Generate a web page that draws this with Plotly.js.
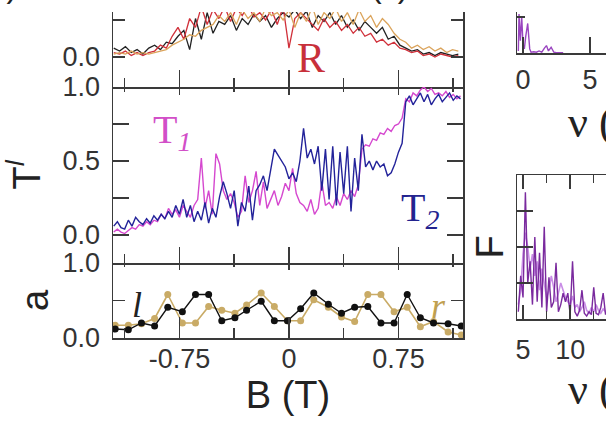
<!DOCTYPE html>
<html><head><meta charset="utf-8">
<script src="https://cdn.plot.ly/plotly-3.0.1.min.js"></script>
<style>html,body{margin:0;padding:0;background:#fff;}#chart{width:606px;height:427px;}</style>
</head><body><div id="chart"></div><script>
// ---- R panel (top left) ----
const B_R = [-1.20,-1.16,-1.12,-1.08,-1.04,-1.00,-0.96,-0.92,-0.88,-0.84,-0.80,-0.76,-0.72,-0.68,-0.64,-0.60,-0.56,-0.52,-0.48,-0.44,-0.40,-0.36,-0.32,-0.28,-0.24,-0.20,-0.16,-0.12,-0.08,-0.04,0.00,0.04,0.08,0.12,0.16,0.20,0.24,0.28,0.32,0.36,0.40,0.44,0.48,0.52,0.56,0.60,0.64,0.68,0.72,0.76,0.80,0.84,0.88,0.92,0.96,1.00,1.04,1.08,1.12,1.16];
const R_black = [0.06,0.04,0.07,0.03,0.05,0.02,0.06,0.08,0.05,0.10,0.09,0.14,0.18,0.05,0.26,0.12,0.30,0.16,0.24,0.22,0.28,0.18,0.26,0.22,0.29,0.24,0.28,0.20,0.26,0.30,0.27,0.32,0.26,0.31,0.20,0.28,0.24,0.30,0.22,0.28,0.20,0.25,0.18,0.24,0.20,0.16,0.20,0.12,0.14,0.08,0.06,0.04,0.05,0.02,0.03,0.01,0.03,0.02,0.01,0.02];
const R_red = [0.03,0.02,0.04,0.01,0.03,0.01,0.03,0.04,0.08,0.06,0.14,0.20,0.12,0.26,0.20,0.34,0.22,0.32,0.26,0.34,0.24,0.33,0.28,0.35,0.27,0.30,0.25,0.32,0.22,0.34,0.06,0.26,0.30,0.26,0.22,0.18,0.26,0.20,0.24,0.18,0.22,0.16,0.20,0.14,0.16,0.10,0.12,0.08,0.10,0.06,0.05,0.03,0.04,0.01,0.02,0.00,0.02,0.01,0.00,0.01];
const R_orange = [0.02,0.03,0.02,0.04,0.02,0.03,0.02,0.03,0.04,0.05,0.08,0.10,0.12,0.15,0.14,0.18,0.20,0.22,0.28,0.24,0.30,0.22,0.32,0.26,0.30,0.24,0.33,0.28,0.30,0.25,0.32,0.20,0.30,0.24,0.34,0.22,0.30,0.26,0.33,0.24,0.30,0.22,0.32,0.24,0.28,0.20,0.26,0.22,0.16,0.12,0.10,0.06,0.08,0.05,0.07,0.04,0.06,0.03,0.05,0.04];

// ---- T panel (middle left) ----
const B_T = [-1.2,-1.175,-1.15,-1.125,-1.1,-1.075,-1.05,-1.025,-1,-0.975,-0.95,-0.925,-0.9,-0.875,-0.85,-0.825,-0.8,-0.775,-0.75,-0.725,-0.7,-0.675,-0.65,-0.625,-0.6,-0.575,-0.55,-0.525,-0.5,-0.475,-0.45,-0.425,-0.4,-0.375,-0.35,-0.325,-0.3,-0.275,-0.25,-0.225,-0.2,-0.175,-0.15,-0.125,-0.1,-0.075,-0.05,-0.025,0,0.025,0.05,0.075,0.1,0.125,0.15,0.175,0.2,0.225,0.25,0.275,0.3,0.325,0.35,0.375,0.4,0.425,0.45,0.475,0.5,0.525,0.55,0.575,0.6,0.625,0.65,0.675,0.7,0.725,0.75,0.775,0.8,0.825,0.85,0.875,0.9,0.925,0.95,0.975,1,1.025,1.05,1.075,1.1,1.125,1.15,1.175];
const T1 = [0.02,0.04,0.02,0.01,0.03,0.05,0.04,0.07,0.06,0.09,0.07,0.10,0.09,0.14,0.11,0.18,0.14,0.17,0.12,0.20,0.16,0.12,0.20,0.24,0.52,0.18,0.30,0.14,0.55,0.48,0.30,0.24,0.28,0.22,0.12,0.16,0.40,0.22,0.30,0.43,0.20,0.36,0.18,0.24,0.30,0.20,0.26,0.35,0.30,0.45,0.28,0.22,0.20,0.16,0.24,0.14,0.18,0.36,0.20,0.22,0.18,0.26,0.20,0.28,0.24,0.30,0.26,0.34,0.58,0.61,0.60,0.65,0.64,0.69,0.68,0.72,0.70,0.74,0.75,0.79,0.92,0.90,0.96,0.94,0.98,1.00,0.97,0.99,0.95,0.96,0.94,0.97,0.93,0.95,0.92,0.94];
const T2 = [0.06,0.09,0.05,0.04,0.10,0.06,0.12,0.09,0.07,0.11,0.08,0.13,0.10,0.14,0.11,0.16,0.12,0.20,0.14,0.24,0.12,0.20,0.09,0.16,0.10,0.22,0.08,0.18,0.12,0.26,0.36,0.28,0.18,0.30,0.06,0.22,0.16,0.33,0.10,0.30,0.34,0.40,0.30,0.44,0.58,0.54,0.50,0.46,0.38,0.42,0.36,0.50,0.72,0.52,0.58,0.48,0.60,0.30,0.58,0.24,0.60,0.20,0.56,0.28,0.60,0.16,0.52,0.30,0.68,0.46,0.50,0.44,0.50,0.46,0.48,0.40,0.42,0.48,0.56,0.62,0.90,0.94,0.88,0.92,0.96,0.90,0.95,0.88,0.92,0.95,0.90,0.93,0.96,0.91,0.94,0.92];

// ---- a panel (bottom left) ----
const B_a = [-1.19,-1.10,-1.01,-0.92,-0.83,-0.73,-0.64,-0.55,-0.46,-0.37,-0.29,-0.19,-0.10,-0.01,0.08,0.17,0.27,0.36,0.45,0.54,0.63,0.72,0.81,0.90,0.99,1.09,1.18];
const a_l = [0.12,0.11,0.20,0.16,0.41,0.35,0.58,0.58,0.23,0.27,0.37,0.49,0.23,0.23,0.39,0.60,0.45,0.33,0.41,0.42,0.20,0.20,0.58,0.27,0.20,0.19,0.16];
const a_r = [0.17,0.17,0.19,0.26,0.58,0.20,0.20,0.42,0.37,0.33,0.44,0.60,0.42,0.23,0.23,0.51,0.41,0.28,0.22,0.58,0.58,0.35,0.41,0.15,0.22,0.08,0.04];
const B_ticks = [-0.75, 0, 0.75];
const B_tickText = ['-0.75', '0', '0.75'];

// ---- spectra (right) ----
const nu_top = [-0.35,-0.3,-0.2,-0.1,0.0,0.1,0.2,0.35,0.5,0.6,0.8,1.0,1.2,1.4,1.6,1.75,1.9,2.1,2.3,2.5,3.0];
const F_top = [0.05,0.95,0.3,0.9,0.2,0.1,0.4,0.72,0.1,0.02,0.03,0.02,0.05,0.02,0.12,0.18,0.05,0.14,0.02,0.01,0.01];
const nu_bot = [4.5,4.75,5,5.25,5.5,5.75,6,6.25,6.5,6.75,7,7.25,7.5,7.75,8,8.25,8.5,8.75,9,9.25,9.5,9.75,10,10.25,10.5,10.75,11,11.25,11.5,11.75,12,12.25,12.5,12.75,13,13.25,13.5,13.75];
const F_dark = [0.05,0.30,0.15,0.88,0.25,0.40,0.10,0.57,0.12,0.46,0.08,0.64,0.05,0.29,0.08,0.12,0.39,0.05,0.10,0.18,0.12,0.18,0.03,0.40,0.05,0.02,0.06,0.20,0.04,0.02,0.05,0.03,0.22,0.04,0.03,0.08,0.18,0.03];
const F_light = [0.10,0.20,0.45,0.60,0.50,0.35,0.45,0.30,0.40,0.20,0.35,0.25,0.15,0.20,0.30,0.22,0.12,0.18,0.25,0.20,0.15,0.12,0.10,0.16,0.08,0.10,0.05,0.08,0.12,0.06,0.04,0.08,0.05,0.10,0.06,0.04,0.07,0.05];

const W = 606, H = 427;
const px = p => p / W, py = p => 1 - p / H;
const AX = '#3a3a3a';
const tickFont = {family: 'Liberation Sans, Arial, sans-serif', size: 27, color: '#333'};
const base = {showgrid: false, zeroline: false, showline: true, linecolor: AX, linewidth: 1.5,
  tickcolor: AX, tickwidth: 1.5, ticks: 'inside', tickfont: tickFont};
const Brange = [-1.205, 1.192];
const xLeft = [px(113), px(463)];
const xRight = [px(517), 1];
const minorB = (len) => ({ticks: 'inside', ticklen: len, tick0: 0, dtick: 0.375, tickcolor: AX, tickwidth: 1.5, showgrid: false});
const minorV = (vals, len) => ({ticks: 'inside', ticklen: len, tickmode: 'array', tickvals: vals, tickcolor: AX, tickwidth: 1.5, showgrid: false});

const line = (x, y, xa, ya, color, w) => ({x, y, xaxis: xa, yaxis: ya, type: 'scatter', mode: 'lines',
  line: {color, width: w || 1.3}, showlegend: false, hoverinfo: 'skip'});

const data = [
  line(B_R, R_black, 'x', 'y', '#222222', 1.3),
  line(B_R, R_red, 'x', 'y', '#d0303a', 1.3),
  line(B_R, R_orange, 'x', 'y', '#dba45c', 1.3),
  line(B_T, T1, 'x2', 'y2', '#d548cf', 1.4),
  line(B_T, T2, 'x2', 'y2', '#23239a', 1.4),
  {x: B_a, y: a_r, xaxis: 'x3', yaxis: 'y3', type: 'scatter', mode: 'lines+markers',
   line: {color: '#c9ab66', width: 1.6}, marker: {color: '#c9ab66', size: 7}, showlegend: false},
  {x: B_a, y: a_l, xaxis: 'x3', yaxis: 'y3', type: 'scatter', mode: 'lines+markers',
   line: {color: '#111', width: 1.4}, marker: {color: '#111', size: 7}, showlegend: false},
  {x: [null], y: [null], xaxis: 'x4', yaxis: 'y2', type: 'scatter', showlegend: false, hoverinfo: 'skip'},
  {x: [null], y: [null], xaxis: 'x5', yaxis: 'y3', type: 'scatter', showlegend: false, hoverinfo: 'skip'},
  line(nu_top, F_top, 'x6', 'y6', '#9a45c0', 1.4),
  line(nu_bot, F_light, 'x7', 'y7', '#c98de6', 1.6),
  line(nu_bot, F_dark, 'x7', 'y7', '#7a2a9e', 1.4)
];

const ann = (text, x, y, font, extra) => Object.assign({text, x: px(x), y: py(y), xref: 'paper', yref: 'paper',
  xanchor: 'center', yanchor: 'middle', showarrow: false, font}, extra || {});
const serif = (size, color) => ({family: 'Liberation Serif, Times New Roman, serif', size, color});

const layout = {
  width: W, height: H, margin: {l: 0, r: 0, t: 0, b: 0},
  paper_bgcolor: '#fff', plot_bgcolor: 'rgba(0,0,0,0)', showlegend: false,
  font: {family: 'Liberation Sans, Arial, sans-serif', color: '#333'},
  xaxis: Object.assign({}, base, {domain: xLeft, anchor: 'y', range: Brange, tick0: 0, dtick: 0.75,
    ticklen: 17, minor: minorB(9), showticklabels: false}),
  yaxis: Object.assign({}, base, {domain: [py(87), py(12)], anchor: 'x', range: [-0.2027, 0.3041],
    tickmode: 'array', tickvals: [0], ticktext: ['0.0'], minor: minorV([0.25], 12), ticklen: 12, mirror: 'ticks', ticklabelstandoff: 6}),
  xaxis2: Object.assign({}, base, {domain: xLeft, anchor: 'y2', range: Brange, tick0: 0, dtick: 0.75,
    ticklen: 16, minor: minorB(9), showticklabels: false}),
  xaxis4: Object.assign({}, base, {overlaying: 'x2', anchor: 'y2', side: 'top', range: Brange, tick0: 0, dtick: 0.75,
    showline: false, ticklen: 8, minor: minorB(5), showticklabels: false}),
  yaxis2: Object.assign({}, base, {domain: [py(263), py(87)], anchor: 'x2', range: [-0.189, 1.0],
    tickmode: 'array', tickvals: [0, 0.5, 1], ticktext: ['0.0', '0.5', '1.0'], minor: minorV([0.25, 0.75], 16),
    ticklen: 16, mirror: 'ticks', ticklabelstandoff: 6,
    title: {text: 'T<sup><i>l</i></sup>', font: {size: 38, color: '#222'}, standoff: 18}}),
  xaxis3: Object.assign({}, base, {domain: xLeft, anchor: 'y3', range: Brange, tickmode: 'array',
    tickvals: B_ticks, ticktext: B_tickText, ticklen: 21, minor: minorB(10), ticklabelstandoff: -4,
    title: {text: 'B (T)', font: {size: 38, color: '#222'}, standoff: 8}}),
  xaxis5: Object.assign({}, base, {overlaying: 'x3', anchor: 'y3', side: 'top', range: Brange, tick0: 0, dtick: 0.75,
    showline: false, ticklen: 7, minor: minorB(4), showticklabels: false}),
  yaxis3: Object.assign({}, base, {domain: [py(338), py(263)], anchor: 'x3', range: [0, 1],
    tickmode: 'array', tickvals: [0, 1], ticktext: ['0.0', '1.0'], minor: minorV([0.5], 12), ticklen: 12, mirror: 'ticks', ticklabelstandoff: 6,
    title: {text: 'a', font: {size: 38, color: '#222'}, standoff: 2}}),
  xaxis6: Object.assign({}, base, {domain: xRight, anchor: 'y6', range: [-0.45, 6.2], tickmode: 'array',
    tickvals: [0, 5], ticktext: ['0', '5'], ticklen: 16, ticklabelstandoff: 2}),
  yaxis6: Object.assign({}, base, {domain: [py(53), py(12)], anchor: 'x6', range: [0, 1],
    tickmode: 'array', tickvals: [0.88], ticktext: [''], ticklen: 8, showticklabels: false}),
  xaxis7: Object.assign({}, base, {domain: xRight, anchor: 'y7', range: [4.36, 13.8], tickmode: 'array',
    tickvals: [5, 10, 15], ticktext: ['5', '10', '15'], ticklen: 14, mirror: 'ticks', ticklabelstandoff: 6,
    minor: {ticks: 'inside', ticklen: 8, tick0: 0, dtick: 2.5, tickcolor: AX, tickwidth: 1.5}}),
  yaxis7: Object.assign({}, base, {domain: [py(319), py(175)], anchor: 'x7', range: [0, 1],
    tickmode: 'array', tickvals: [0.25, 0.5, 0.75], ticklen: 16, showticklabels: false,
    title: {text: 'F', font: {size: 38, color: '#222'}, standoff: 0}}),
  annotations: [
    ann('R', 311, 58, serif(42, '#c8303a')),
    ann('T<sub><i>1</i></sub>', 172, 132, serif(40, '#d24fc8')),
    ann('T<sub><i>2</i></sub>', 420, 210, serif(40, '#23238f')),
    ann('<i>l</i>', 137, 305, serif(36, '#222')),
    ann('<i>r</i>', 438, 306, serif(36, '#c0a050')),
    ann('ν (T<sup>-1</sup>)', 566, 120, serif(44, '#222'), {xanchor: 'left'}),
    ann('ν (T<sup>-1</sup>)', 566, 386, serif(44, '#222'), {xanchor: 'left'}),
    ann('(b)', 19, 6, {size: 32, color: '#222'}, {xanchor: 'right', yanchor: 'bottom'}),
    ann('(c)', 369, 6, {size: 32, color: '#222'}, {xanchor: 'left', yanchor: 'bottom'})
  ]
};

Plotly.newPlot('chart', data, layout, {staticPlot: true, displayModeBar: false});
</script></body></html>
